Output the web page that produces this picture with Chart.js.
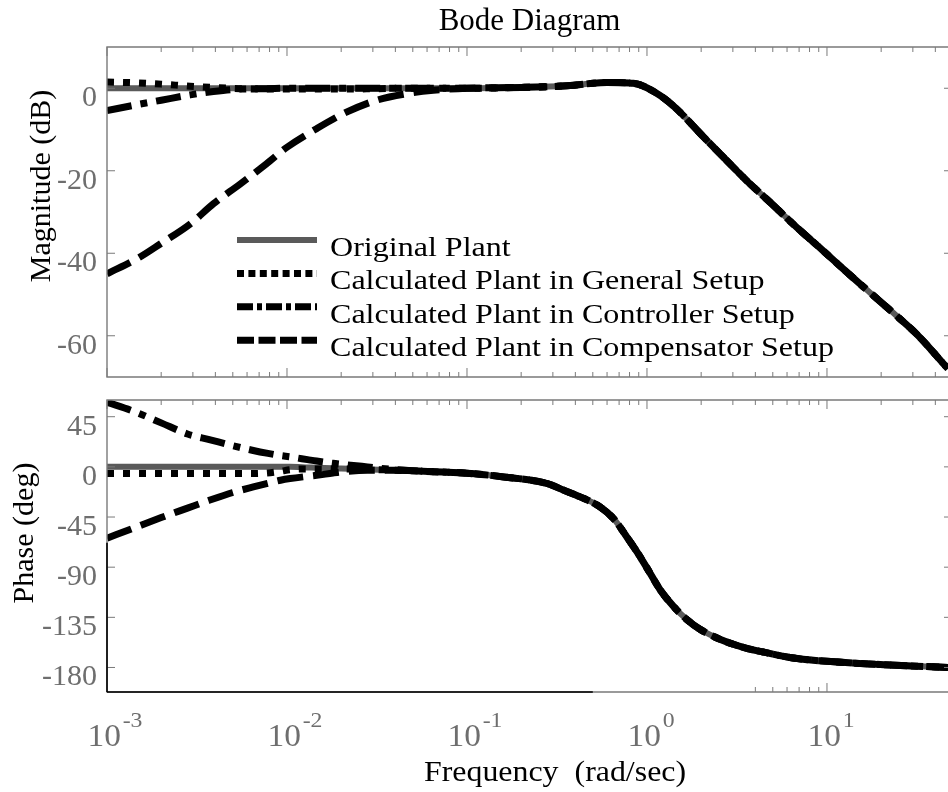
<!DOCTYPE html>
<html>
<head>
<meta charset="utf-8">
<script src="https://cdn.jsdelivr.net/npm/chart.js@4.4.1/dist/chart.umd.min.js"></script>
<style>
  html, body { margin: 0; padding: 0; background: #fff; overflow: hidden; }
  #wrap { position: relative; width: 948px; height: 792px; overflow: hidden; }
  canvas { position: absolute; left: 0; top: 0; }
</style>
</head>
<body>
<div id="wrap">
  <canvas id="mag" width="956" height="792"></canvas>
  <canvas id="phase" width="956" height="792"></canvas>
</div>
<script>
const seriesNames = [
  'Original Plant',
  'Calculated Plant in General Setup',
  'Calculated Plant in Controller Setup',
  'Calculated Plant in Compensator Setup'
]

// magnitude (dB)
const magFreq = [0.001, 0.0015, 0.002, 0.0029, 0.0039, 0.0055, 0.0077, 0.01, 0.0146, 0.0214, 0.0315, 0.0464, 0.065, 0.1,
  0.2, 0.36, 0.6, 0.84, 1.13, 1.42, 2.06, 2.77, 3.58, 4.82, 6.78, 9.53, 12.3, 17.3, 24.4, 31.5, 47]
const magOriginal = [0, 0, 0, 0, 0, 0, 0, 0, 0, 0, 0, 0, 0, 0,
  0.2, 0.6, 1.4, 1.2, -1.2, -4.5, -11.8, -17.5, -22.4, -27.6, -33.7, -39.4, -43.8, -49.5, -55.2, -59.6, -68]
const magGeneral = [1.5, 1.3, 1.0, 0.5, 0.2, -0.1, -0.2, -0.2, -0.2, -0.2, -0.1, 0, 0, 0,
  0.2, 0.6, 1.4, 1.2, -1.2, -4.5, -11.8, -17.5, -22.4, -27.6, -33.7, -39.4, -43.8, -49.5, -55.2, -59.6, -68]
const magController = [-5.4, -3.9, -2.9, -1.6, -0.8, -0.2, -0.1, 0, 0, 0, 0, 0, 0, 0,
  0.2, 0.6, 1.4, 1.2, -1.2, -4.5, -11.8, -17.5, -22.4, -27.6, -33.7, -39.4, -43.8, -49.5, -55.2, -59.6, -68]
const magCompensator = [-45, -41.1, -37.6, -32.9, -28, -23.2, -18.3, -14.3, -9.8, -5.8, -2.9, -1.3, -0.5, 0,
  0.2, 0.6, 1.4, 1.2, -1.2, -4.5, -11.8, -17.5, -22.4, -27.6, -33.7, -39.4, -43.8, -49.5, -55.2, -59.6, -68]

// phase (deg)
const phaseFreq = [0.001, 0.0014, 0.002, 0.0028, 0.0037, 0.005, 0.0065, 0.0077, 0.0092, 0.0104, 0.013, 0.0146, 0.018, 0.02,
  0.028, 0.04, 0.065, 0.1,
  0.16, 0.28, 0.34, 0.425, 0.548, 0.65, 0.771, 0.914, 1.039, 1.18, 1.40, 1.66, 1.97, 2.54, 3.43, 4.25, 6.5, 10, 20.6, 47]
const phaseOriginal = [0, 0, 0, 0, 0, 0, 0, 0, 0, 0, -0.5, -0.8, -1.2, -1.5,
  -2.2, -3, -4.3, -5.7,
  -9, -15, -20.5, -26.9, -35.8, -46.2, -62.6, -80.4, -95.2, -110, -125, -136.8, -145.7, -154.6, -162, -165.5, -171.5, -174.5, -177.5, -180]
const phaseGeneral = [-6, -6, -6, -6, -6, -6, -6, -5.5, -4, -2.5, -1.8, -1.8, -1.8, -1.8,
  -2.2, -3, -4.3, -5.7,
  -9, -15, -20.5, -26.9, -35.8, -46.2, -62.6, -80.4, -95.2, -110, -125, -136.8, -145.7, -154.6, -162, -165.5, -171.5, -174.5, -177.5, -180]
const phaseController = [58, 50, 39.5, 29.5, 24.5, 19, 14.7, 12.3, 10.2, 9, 6.5, 5.2, 3.2, 2.4,
  0, -2.5, -4.3, -5.7,
  -9, -15, -20.5, -26.9, -35.8, -46.2, -62.6, -80.4, -95.2, -110, -125, -136.8, -145.7, -154.6, -162, -165.5, -171.5, -174.5, -177.5, -180]
const phaseCompensator = [-64, -55, -45.5, -37, -30, -23, -18, -15, -12, -10.5, -8.5, -7.6, -5.5, -4.6,
  -3.1, -3, -4.3, -5.7,
  -9, -15, -20.5, -26.9, -35.8, -46.2, -62.6, -80.4, -95.2, -110, -125, -136.8, -145.7, -154.6, -162, -165.5, -171.5, -174.5, -177.5, -180]

const magTicks = [0, -20, -40, -60]
const phaseTicks = [45, 0, -45, -90, -135, -180]
const freqExponents = [-3, -2, -1, 0, 1]

const SERIF = "'Liberation Serif', 'Times New Roman', serif"
Chart.defaults.font.family = SERIF
Chart.defaults.color = '#6e6e6e'

const styles = [
  { color: '#5a5a5a', width: 6, dash: [], legendDash: [], order: 4 },
  { color: '#000', width: 7, dash: [7, 9], legendDash: [7, 4.4], order: 3 },
  { color: '#000', width: 7, dash: [25, 9, 7, 9], legendDash: [16, 4, 5, 4], order: 2 },
  { color: '#000', width: 7, dash: [26, 10], legendDash: [17, 4.5], order: 1 }
]

function makeSets(freq, list) {
  return list.map((vals, i) => ({
    label: seriesNames[i],
    data: freq.map((f, j) => ({ x: f, y: vals[j] })),
    borderColor: styles[i].color,
    borderWidth: styles[i].width,
    borderDash: styles[i].dash,
    legendDash: styles[i].legendDash,
    borderCapStyle: 'butt',
    borderJoinStyle: 'round',
    pointRadius: 0,
    fill: false,
    cubicInterpolationMode: 'monotone',
    order: styles[i].order
  }))
}

// box round the plot with inward ticks, the way matlab draws it
const frame = {
  id: 'frame',
  afterDatasetsDraw(chart, args, o) {
    const { ctx, chartArea: a } = chart
    const x = chart.scales.x, y = chart.scales.y
    ctx.save()
    ctx.strokeStyle = '#7a7a7a'
    ctx.lineWidth = 1.4
    ctx.beginPath()
    ctx.rect(a.left, a.top, a.right - a.left, a.bottom - a.top)
    ctx.stroke()

    ctx.lineWidth = 1
    ctx.beginPath()
    const e0 = Math.floor(Math.log10(x.min)), e1 = Math.ceil(Math.log10(x.max))
    for (let e = e0; e <= e1; e++) {
      for (let k = 1; k < 10; k++) {
        const v = k * Math.pow(10, e)
        if (v < x.min * 0.999 || v > x.max) continue
        const px = x.getPixelForValue(v)
        const len = k === 1 ? 9 : 5
        ctx.moveTo(px, a.top); ctx.lineTo(px, a.top + len)
        if (v >= o.bottomFrom * 0.999 && v <= o.bottomTo * 1.001) {
          ctx.moveTo(px, a.bottom); ctx.lineTo(px, a.bottom - len)
        }
      }
    }
    y.ticks.forEach(t => {
      const py = y.getPixelForValue(t.value)
      ctx.moveTo(a.left, py); ctx.lineTo(a.left + 8, py)
      ctx.moveTo(a.right, py); ctx.lineTo(a.right - 8, py)
    })
    ctx.stroke()

    // darker pieces of the frame seen in the bottom panel
    if (o.darkTo) {
      ctx.strokeStyle = '#000'
      ctx.lineWidth = 1.6
      ctx.beginPath()
      ctx.moveTo(a.left, a.bottom); ctx.lineTo(x.getPixelForValue(o.darkTo), a.bottom)
      ctx.moveTo(a.left, a.bottom); ctx.lineTo(a.left, y.getPixelForValue(o.darkFrom))
      ctx.stroke()
    }
    ctx.restore()
  }
}

const texts = {
  id: 'texts',
  afterDraw(chart, args, o) {
    const ctx = chart.ctx
    ctx.save()
    ctx.fillStyle = '#000'

    if (o.yTitle) {
      ctx.save()
      ctx.translate(o.yTitle.x, o.yTitle.y)
      ctx.rotate(-Math.PI / 2)
      ctx.font = '30px ' + SERIF
      ctx.textAlign = 'center'
      ctx.textBaseline = 'alphabetic'
      ctx.fillText(o.yTitle.text, 0, 0)
      ctx.restore()
    }

    if (o.xTitle) {
      ctx.save()
      ctx.translate(o.xTitle.x, o.xTitle.y)
      ctx.scale(1.1, 1)
      ctx.font = '29px ' + SERIF
      ctx.textAlign = 'center'
      ctx.textBaseline = 'alphabetic'
      ctx.fillText(o.xTitle.text, 0, 0)
      ctx.restore()
    }

    if (o.decadeLabels) {
      const x = chart.scales.x
      ctx.fillStyle = '#6e6e6e'
      freqExponents.forEach(e => {
        const px = x.getPixelForValue(Math.pow(10, e))
        ctx.save()
        ctx.translate(px, 0)
        ctx.scale(1.08, 1)
        ctx.textBaseline = 'alphabetic'
        ctx.font = '31px ' + SERIF
        ctx.textAlign = 'right'
        ctx.fillText('10', 13, 746)
        ctx.font = '22px ' + SERIF
        ctx.textAlign = 'left'
        ctx.fillText(String(e), 14.5, 727)
        ctx.restore()
      })
    }

    if (o.legend) {
      const L = o.legend
      chart.data.datasets.forEach((ds, i) => {
        const yy = L.y + i * L.dy
        ctx.save()
        ctx.strokeStyle = ds.borderColor
        ctx.lineWidth = ds.borderWidth
        ctx.lineCap = 'butt'
        ctx.setLineDash(ds.legendDash)
        ctx.beginPath()
        ctx.moveTo(L.x, yy); ctx.lineTo(L.x + L.len, yy)
        ctx.stroke()
        ctx.restore()
        ctx.save()
        ctx.translate(L.textX, yy + 16)
        ctx.scale(1.145, 1)
        ctx.fillStyle = '#000'
        ctx.font = '28px ' + SERIF
        ctx.textAlign = 'left'
        ctx.textBaseline = 'alphabetic'
        ctx.fillText(ds.label, 0, 0)
        ctx.restore()
      })
    }
    ctx.restore()
  }
}

function yAxis(min, max, ticks) {
  return {
    type: 'linear',
    min: min,
    max: max,
    grid: { display: false, drawTicks: false },
    border: { display: false },
    afterBuildTicks: s => { s.ticks = ticks.map(v => ({ value: v })) },
    afterFit: s => { s.width = 107 },
    ticks: { padding: 10, labelOffset: 10, color: '#6e6e6e', font: { size: 30, family: SERIF } }
  }
}

function xAxis(height) {
  return {
    type: 'logarithmic',
    min: 0.001,
    max: 49.5,
    grid: { display: false, drawTicks: false },
    border: { display: false },
    ticks: { display: false },
    afterFit: s => { s.height = height }
  }
}

new Chart(document.getElementById('mag'), {
  type: 'line',
  data: { datasets: makeSets(magFreq, [magOriginal, magGeneral, magController, magCompensator]) },
  options: {
    responsive: false,
    animation: false,
    layout: { padding: { left: 0, right: 4, top: 0, bottom: 0 } },
    scales: { x: xAxis(792 - 377), y: yAxis(-70, 10, magTicks) },
    plugins: {
      legend: { display: false },
      tooltip: { enabled: false },
      title: {
        display: true, text: 'Bode Diagram', color: '#000', fullSize: false,
        font: { size: 31, weight: 'normal', family: SERIF },
        padding: { top: 3, bottom: 6.8 }
      },
      frame: { bottomFrom: 0.001, bottomTo: 100 },
      texts: {
        yTitle: { text: 'Magnitude (dB)', x: 50, y: 186 },
        legend: { x: 237, len: 80, textX: 330, y: 240, dy: 33.4 }
      }
    }
  },
  plugins: [frame, texts]
})

new Chart(document.getElementById('phase'), {
  type: 'line',
  data: { datasets: makeSets(phaseFreq, [phaseOriginal, phaseGeneral, phaseController, phaseCompensator]) },
  options: {
    responsive: false,
    animation: false,
    layout: { padding: { left: 0, right: 4, top: 400, bottom: 0 } },
    scales: { x: xAxis(100), y: yAxis(-202, 60, phaseTicks) },
    plugins: {
      legend: { display: false },
      tooltip: { enabled: false },
      frame: { bottomFrom: 4, bottomTo: 10, darkTo: 0.5, darkFrom: -68 },
      texts: {
        yTitle: { text: 'Phase (deg)', x: 33, y: 533 },
        xTitle: { text: 'Frequency  (rad/sec)', x: 555, y: 781 },
        decadeLabels: true
      }
    }
  },
  plugins: [frame, texts]
})
</script>
</body>
</html>
